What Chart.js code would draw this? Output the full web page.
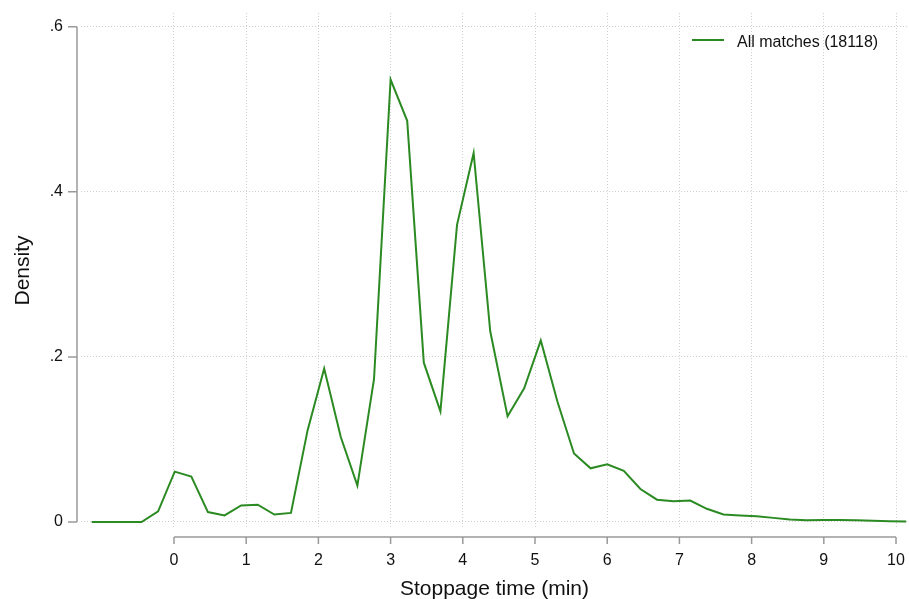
<!DOCTYPE html>
<html>
<head>
<meta charset="utf-8">
<script src="https://cdn.jsdelivr.net/npm/chart.js@4"></script>
<style>
  html, body { margin: 0; padding: 0; background: #fff; }
  #wrap { width: 909px; height: 599px; }
</style>
</head>
<body>
<div id="wrap"><canvas id="myChart" width="909" height="599"></canvas></div>
<script>
const minutes = [
  -1.14, -0.91, -0.68, -0.45, -0.22, 0.01, 0.24, 0.47, 0.70, 0.93,
  1.16, 1.39, 1.62, 1.85, 2.08, 2.31, 2.54, 2.77, 3.00, 3.23,
  3.46, 3.69, 3.92, 4.15, 4.38, 4.62, 4.85, 5.08, 5.31, 5.54,
  5.77, 6.00, 6.23, 6.46, 6.69, 6.92, 7.15, 7.38, 7.61, 7.84,
  8.07, 8.30, 8.53, 8.76, 8.99, 9.22, 9.45, 9.68, 9.91, 10.14,
];
const density = [
  0, 0, 0, 0, 0.013, 0.061, 0.055, 0.012, 0.008, 0.020,
  0.021, 0.009, 0.011, 0.111, 0.186, 0.103, 0.044, 0.173, 0.536, 0.486,
  0.193, 0.134, 0.360, 0.447, 0.231, 0.128, 0.162, 0.220, 0.146, 0.083,
  0.065, 0.070, 0.062, 0.040, 0.027, 0.025, 0.026, 0.016, 0.009, 0.008,
  0.007, 0.005, 0.003, 0.002, 0.0025, 0.0024, 0.002, 0.0015, 0.001, 0.0007,
];
const xTicks = [0, 1, 2, 3, 4, 5, 6, 7, 8, 9, 10];
const yTicks = [0, 0.2, 0.4, 0.6];
const yTickLabels = ["0", ".2", ".4", ".6"];
const seriesLabel = "All matches (18118)";

const FONT = "'Liberation Sans', Arial, Helvetica, sans-serif";
const GREEN = "#2b8a22";
const GRID = "#cfcfcf";
const AXIS = "#9a9a9a";

// stata-like axes: lines only span the labelled range, ticks point outward
const axisLines = {
  id: "axisLines",
  afterDraw(chart) {
    const { ctx, scales } = chart;
    const x = scales.x, y = scales.y;
    ctx.save();
    ctx.strokeStyle = AXIS;
    ctx.lineWidth = 1.5;
    ctx.beginPath();
    const ax = 77;
    ctx.moveTo(ax, y.getPixelForValue(0));
    ctx.lineTo(ax, y.getPixelForValue(0.6));
    yTicks.forEach((v) => {
      const p = y.getPixelForValue(v);
      ctx.moveTo(68, p);
      ctx.lineTo(ax, p);
    });
    const ay = 537;
    ctx.moveTo(x.getPixelForValue(0), ay);
    ctx.lineTo(x.getPixelForValue(10), ay);
    xTicks.forEach((v) => {
      const p = x.getPixelForValue(v);
      ctx.moveTo(p, ay);
      ctx.lineTo(p, ay + 7);
    });
    ctx.stroke();

    // legend inside the plot, top right
    ctx.strokeStyle = GREEN;
    ctx.lineWidth = 2;
    ctx.beginPath();
    ctx.moveTo(692, 40);
    ctx.lineTo(724, 40);
    ctx.stroke();
    ctx.fillStyle = "#111";
    ctx.font = "16px " + FONT;
    ctx.textBaseline = "alphabetic";
    ctx.textAlign = "left";
    ctx.fillText(chart.data.datasets[0].label, 737, 47);
    ctx.restore();
  },
};

// keep label overhang from shrinking the plot area
const noOverhang = (scale) => {
  scale.paddingTop = 0;
  scale.paddingBottom = 0;
  scale.paddingLeft = 0;
  scale.paddingRight = 0;
};

const data = {
  datasets: [
    {
      label: seriesLabel,
      data: minutes.map((m, i) => ({ x: m, y: density[i] })),
      borderColor: GREEN,
      backgroundColor: GREEN,
      borderWidth: 2,
      pointRadius: 0,
      tension: 0,
      fill: false,
    },
  ],
};

const config = {
  type: "line",
  data,
  plugins: [axisLines],
  options: {
    responsive: false,
    animation: false,
    layout: { padding: { top: 13, right: 1, bottom: 0, left: 0 } },
    scales: {
      x: {
        type: "linear",
        min: -1.288,
        max: 10.166,
        afterBuildTicks: (scale) => {
          scale.ticks = xTicks.map((v) => ({ value: v }));
        },
        afterFit: (scale) => {
          scale.height = 71;
          noOverhang(scale);
        },
        border: { display: false, dash: [1, 2] },
        grid: { color: GRID, drawTicks: false },
        ticks: {
          padding: 23,
          color: "#111",
          font: { size: 16, family: FONT },
          maxRotation: 0,
          autoSkip: false,
          callback: (v) => String(v),
        },
        title: {
          display: true,
          text: "Stoppage time (min)",
          color: "#111",
          font: { size: 21, family: FONT },
          padding: { top: 0, bottom: -3 },
        },
      },
      y: {
        type: "linear",
        min: -0.00727,
        max: 0.6166,
        afterBuildTicks: (scale) => {
          scale.ticks = yTicks.map((v) => ({ value: v }));
        },
        afterFit: (scale) => {
          scale.width = 81;
          noOverhang(scale);
        },
        border: { display: false, dash: [1, 2] },
        grid: { color: GRID, drawTicks: false },
        ticks: {
          padding: 18,
          color: "#111",
          font: { size: 16, family: FONT },
          autoSkip: false,
          callback: (v) => yTickLabels[yTicks.indexOf(Math.round(v * 10) / 10)],
        },
        title: {
          display: true,
          text: "Density",
          color: "#111",
          font: { size: 21, family: FONT },
          padding: { top: 11, bottom: 0 },
        },
      },
    },
    plugins: {
      legend: { display: false },
      tooltip: { enabled: false },
    },
  },
};

new Chart(document.getElementById("myChart"), config);
</script>
</body>
</html>
